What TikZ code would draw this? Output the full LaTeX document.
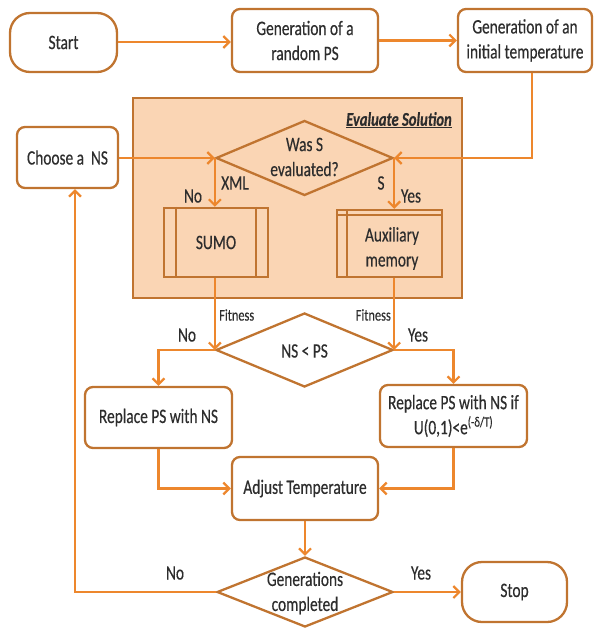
\documentclass[tikz,border=0pt]{standalone}
\usepackage{fontspec}
\setmainfont{Carlito}[FakeStretch=0.75,FakeBold=0.35]
\usetikzlibrary{shapes.geometric,arrows.meta}
\definecolor{lineC}{RGB}{237,135,45}
\definecolor{boxC}{RGB}{192,116,48}
\definecolor{fillC}{RGB}{250,213,180}
\definecolor{txtC}{RGB}{45,45,45}
\begin{document}
\begin{tikzpicture}[x=1pt,y=-1pt,
  font=\fontsize{20.5}{25}\selectfont, text=txtC,
  box/.style={draw=boxC, line width=2.3pt, rounded corners=8pt, fill=white, align=center, inner sep=0pt},
  term/.style={box, rounded corners=20pt},
  dia/.style={draw=boxC, line width=2.3pt, shape=diamond, inner sep=0pt},
  proc/.style={draw=boxC, line width=2.3pt, align=center, inner sep=0pt},
  arr/.style={draw=lineC, line width=2.2pt, -{Straight Barb[length=6pt,width=12pt]}},
  inner/.style={draw=boxC, line width=2pt},
  lbl/.style={inner sep=0pt},
  small/.style={inner sep=0pt, font=\fontsize{16.5}{18}\selectfont}]
\useasboundingbox (0,0) rectangle (600,628);
% evaluate solution container
\node[draw=boxC, fill=fillC, line width=2.2pt, minimum width=329pt, minimum height=200pt, inner sep=0pt] (ev) at (297.5,198) {};
\node[anchor=east, inner sep=0pt, font=\fontsize{19.5}{22}\selectfont\bfseries\itshape] (evt) at (452,120) {\underline{Evaluate Solution}};
% nodes
\node[term, minimum width=107pt, minimum height=59pt] (start) at (63.5,42.5) {Start};
\node[box, minimum width=146pt, minimum height=63pt] (gen1) at (305,40.5) {Generation of a\\random PS};
\node[box, minimum width=134pt, minimum height=63pt] (gen2) at (525,40.5) {Generation of an\\initial temperature};
\node[box, minimum width=101pt, minimum height=61pt] (choose) at (67.5,157.5) {Choose a\, NS};
\node[dia, minimum width=177pt, minimum height=75pt] (d1) at (304.5,158) {};
\node[lbl, align=center] (d1t) at (304.5,157) {Was S\\evaluated?};
\node[proc, minimum width=104pt, minimum height=69pt] (sumo) at (216,242.5) {SUMO};
\node[proc, minimum width=105pt, minimum height=67pt] (aux) at (389.5,243.5) {};
\node[lbl, align=center] (auxt) at (392,248.5) {Auxiliary\\memory};
\draw[inner] ([xshift=13pt]sumo.north west) -- ([xshift=13pt]sumo.south west);
\draw[inner] ([xshift=-13pt]sumo.north east) -- ([xshift=-13pt]sumo.south east);
\draw[inner] ([yshift=-6pt]aux.north west) -- ([yshift=-6pt]aux.north east);
\draw[inner] ([xshift=11pt]aux.north west) -- ([xshift=11pt]aux.south west);
\node[dia, minimum width=177pt, minimum height=74pt] (d2) at (304.5,350) {};
\node[lbl] (d2t) at (304.5,351) {NS < PS};
\node[box, minimum width=147pt, minimum height=61pt] (rep1) at (158.5,417.5) {Replace PS with NS};
\node[box, minimum width=147pt, minimum height=62pt] (rep2) at (453.5,416) {Replace PS with NS if\\U(0,1)<e\textsuperscript{(-δ/T)}};
\node[box, minimum width=146pt, minimum height=63pt] (adj) at (305,488.5) {Adjust Temperature};
\node[dia, minimum width=176pt, minimum height=70pt] (d3) at (305,592) {};
\node[lbl, align=center] (d3t) at (305,593) {Generations\\completed};
\node[term, minimum width=105pt, minimum height=60pt] (stop) at (514.5,592) {Stop};
% labels
\node[lbl] (l1) at (193,196) {No};
\node[lbl] (l2) at (235,183) {XML};
\node[lbl] (l3) at (381,183) {S};
\node[lbl] (l4) at (411,196) {Yes};
\node[small, anchor=west] (l5) at (219,315) {Fitness};
\node[small, anchor=east] (l6) at (391,315) {Fitness};
\node[lbl] (l7) at (187,335) {No};
\node[lbl] (l8) at (418,335) {Yes};
\node[lbl] (l9) at (175,573) {No};
\node[lbl] (l10) at (421,573) {Yes};
% coordinates
\coordinate (c3) at (532,158);
\coordinate (c1) at (75,592);
% connectors
\draw[arr] (start.east |- 0,42) -- (gen1.west |- 0,42);
\draw[arr] (gen1.east) -- (gen2.west);
\draw[arr] (c3 |- gen2.south) -- (c3) -- (d1.east);
\draw[arr] (choose.east |- d1.west) -- (d1.west);
\draw[arr] (d1.west) -- (d1.west |- sumo.north);
\draw[arr] (d1.east) -- (d1.east |- aux.north);
\draw[arr] (d2.west |- sumo.south) -- (d2.west);
\draw[arr] (d2.east |- aux.south) -- (d2.east);
\draw[arr] (d2.west) -| (rep1.north);
\draw[arr] (d2.east) -| (rep2.north);
\draw[arr] (rep1.south) |- (adj.west);
\draw[arr] (rep2.south) |- (adj.east);
\draw[arr] (adj.south) -- (d3.north);
\draw[arr] (d3.east) -- (stop.west);
\draw[arr] (d3.west) -- (c1) -- (c1 |- choose.south);
\end{tikzpicture}
\end{document}
